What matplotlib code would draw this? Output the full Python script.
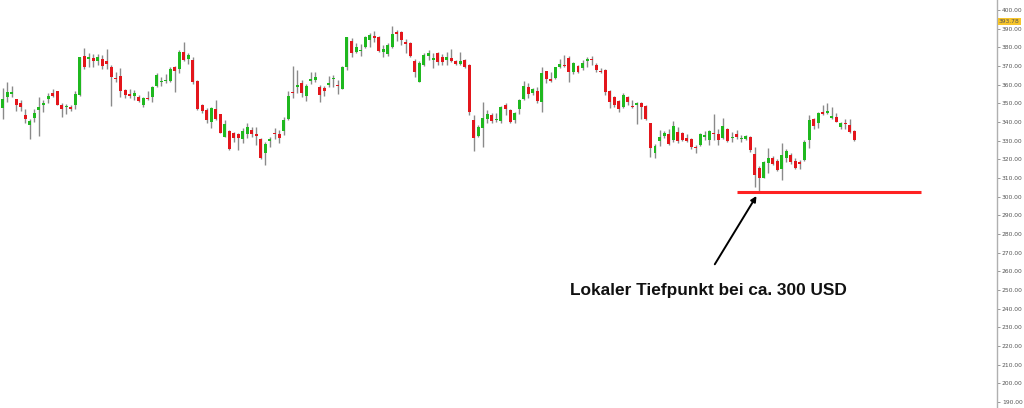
import matplotlib
matplotlib.use("Agg")
import matplotlib.pyplot as plt
import numpy as np

# OHLC values (one per candle, left to right)
opens = [347.7,353.4,355.3,352.1,350.2,343.9,338.2,342.1,346.4,349.3,352.1,355.4,356.4,348.9,347.9,347.9,348.9,354.5,375.4,373.9,
         374.3,372.9,373.7,372.5,369.3,363.6,364.6,357.1,355.0,353.7,353.6,349.3,353.0,353.4,359.5,361.4,361.8,362.1,369.3,368.6,
         377.5,373.9,373.4,362.1,349.1,346.6,340.2,347.1,344.1,332.1,335.2,333.9,333.4,331.1,333.4,335.7,333.4,330.7,323.2,330.0,
         334.3,333.7,335.4,341.4,356.2,358.9,361.1,353.9,361.9,362.5,358.9,358.4,359.8,362.9,360.0,357.9,369.6,383.6,377.7,378.2,
         380.4,383.9,386.1,385.7,377.3,376.4,380.4,388.4,388.0,383.0,382.5,372.9,361.6,370.5,375.5,373.4,376.8,374.8,373.4,374.5,
         372.5,371.2,373.2,370.5,341.1,332.5,336.6,341.6,343.7,340.9,340.7,348.9,346.2,341.1,346.8,352.3,358.9,355.7,356.6,350.9,
         367.1,363.2,363.6,369.3,370.7,374.1,367.0,370.0,368.7,372.9,373.9,370.5,367.5,367.9,356.6,353.2,351.2,348.2,353.2,348.6,
         349.1,350.4,348.7,339.3,323.6,330.0,332.7,333.4,330.4,334.5,333.9,331.4,330.9,326.8,327.7,332.1,330.4,333.9,333.6,331.6,
         336.1,331.4,333.6,330.9,331.1,332.1,322.9,315.5,310.2,318.2,320.9,319.1,314.6,320.5,322.3,319.1,318.4,319.7,330.4,341.6,
         339.3,345.2,344.7,342.3,342.9,337.5,339.7,338.6,335.4]
highs = [358.0,361.6,359.5,352.5,351.8,346.8,341.8,346.8,353.6,351.8,355.7,357.7,356.8,350.0,349.6,349.1,356.4,375.0,379.5,376.8,
         376.4,376.2,376.1,379.1,370.5,366.6,369.1,357.9,357.5,357.3,354.5,353.6,356.6,359.3,366.1,363.9,365.7,369.3,370.2,378.6,
         382.7,376.8,374.6,362.5,349.6,347.3,347.9,351.6,344.5,341.1,335.7,334.8,334.3,336.6,339.3,337.1,337.5,331.2,329.5,331.8,
         336.6,335.7,342.9,356.8,370.2,367.9,362.5,360.4,366.6,367.0,359.8,359.3,364.6,365.2,362.5,370.0,385.7,384.8,382.1,381.8,
         386.2,387.5,388.9,386.1,381.2,382.1,391.4,389.3,388.9,384.3,383.0,373.6,372.9,376.8,378.6,376.8,377.5,376.2,377.3,378.9,
         373.2,377.7,373.9,370.9,343.7,338.4,350.9,346.4,344.6,344.6,348.6,350.4,347.0,345.5,352.3,362.0,360.7,358.0,358.9,369.6,
         367.5,367.0,369.6,373.7,375.9,375.4,372.3,370.5,373.2,374.6,375.4,371.8,368.7,368.2,357.1,353.9,351.8,355.4,353.9,351.8,
         350.9,350.9,349.1,339.6,328.2,335.7,335.4,336.1,340.5,337.5,334.8,333.4,331.2,327.7,333.9,335.4,335.7,344.3,336.1,342.0,
         336.6,334.8,335.7,333.0,333.0,332.5,326.8,316.4,319.3,325.9,321.8,320.0,328.6,325.4,323.2,320.5,319.7,330.4,343.8,342.0,
         345.5,349.1,350.0,348.2,345.0,340.2,341.6,341.4,335.7]
lows = [341.4,350.9,353.2,346.1,346.1,339.6,330.9,340.2,332.5,345.5,350.3,353.2,348.9,342.8,344.1,346.1,347.1,353.9,368.2,369.3,
        369.6,370.7,368.2,368.6,348.7,361.4,353.6,352.7,352.7,351.8,350.9,347.9,351.8,350.9,358.9,359.5,360.7,361.6,356.2,366.1,
        372.7,370.9,360.2,346.4,344.6,339.6,336.6,341.1,333.9,331.8,325.0,329.5,325.0,328.6,331.2,332.1,327.7,320.0,317.0,326.4,
        331.1,328.9,333.0,341.1,353.0,355.4,353.6,351.4,360.4,361.2,350.9,353.9,358.9,358.9,355.0,357.5,367.9,375.0,376.8,375.4,
        379.5,380.4,383.0,377.7,374.6,375.4,379.5,383.6,381.2,377.1,374.6,363.9,361.4,370.0,373.2,368.7,370.5,370.5,370.5,372.3,
        370.5,370.5,369.1,343.7,324.6,331.8,326.4,339.3,339.3,339.8,339.3,343.7,339.6,339.6,344.1,351.8,352.7,354.5,350.0,345.5,
        360.7,361.2,363.2,368.9,369.3,361.6,365.7,366.4,367.9,369.6,370.5,367.0,366.1,354.5,347.3,348.2,345.5,347.3,349.1,347.3,
        338.9,341.4,341.1,321.4,320.5,327.1,331.2,327.7,329.5,328.9,329.8,329.1,325.4,323.2,327.1,330.4,327.7,330.4,327.7,330.7,
        329.5,329.5,331.1,329.5,330.4,324.1,305.4,302.7,309.8,312.5,317.0,313.8,308.9,318.8,317.5,314.6,314.8,319.3,325.9,336.2,
        336.6,343.8,344.3,341.6,339.8,336.1,336.1,333.9,330.0]
closes = [352.3,355.9,355.5,348.9,347.9,341.6,340.7,344.8,348.0,350.2,354.1,353.9,349.3,347.1,348.6,347.0,355.2,374.6,369.5,374.8,
          372.5,375.0,370.0,371.2,363.9,362.9,356.6,354.5,353.9,355.5,351.2,352.8,352.3,358.7,365.4,362.1,362.7,368.6,367.5,377.5,
          373.2,376.1,361.6,347.1,346.1,340.9,347.5,341.6,334.3,338.9,325.4,331.6,331.2,335.2,337.5,333.4,332.7,320.9,328.2,330.7,
          333.6,331.2,341.1,354.1,355.4,359.8,355.7,359.5,363.0,364.3,354.5,356.8,360.7,363.7,359.5,369.3,385.4,376.8,380.4,378.7,
          385.4,386.6,385.2,378.2,379.1,381.2,387.1,387.3,383.9,381.8,375.4,367.0,371.8,375.9,376.8,374.3,372.1,372.1,374.6,372.9,
          371.2,372.9,369.3,345.2,331.6,337.1,342.0,344.1,340.7,341.6,347.9,346.8,340.2,344.8,351.8,359.3,355.0,357.5,351.4,366.2,
          362.9,362.1,369.3,371.1,370.2,367.0,371.4,367.0,371.8,373.6,373.0,367.9,366.8,356.3,350.9,349.1,346.8,354.5,350.7,347.9,
          350.4,348.2,341.6,325.9,327.1,331.8,333.9,328.2,337.9,329.8,330.4,330.0,326.8,325.9,333.4,333.0,335.2,333.4,330.4,337.9,
          330.0,332.1,332.1,331.4,332.5,325.0,311.6,309.8,318.8,320.9,317.5,314.3,322.3,324.5,318.8,315.5,317.7,329.5,341.1,338.0,
          345.0,344.3,346.1,343.0,340.2,339.7,338.8,334.8,330.4]

y_ticks = list(range(190, 401, 10))
last_price = 393.78
support_level = 302.5
annotation_text = "Lokaler Tiefpunkt bei ca. 300 USD"

W, H = 1024, 408
fig = plt.figure(figsize=(W / 100, H / 100), dpi=100)
ax = fig.add_axes([0, 0, 997 / W, 1])

o = np.array(opens); h = np.array(highs); l = np.array(lows); c = np.array(closes)
x = np.arange(len(o))
up = c >= o
green = "#1fb81f"
red = "#e3161c"
cols = np.where(up, green, red)

ax.vlines(x, l, h, color="#8a8a8a", linewidth=1.0, zorder=1)
bottom = np.minimum(o, c)
height = np.maximum(np.abs(c - o), 0.6)
ax.bar(x, height, bottom=bottom, width=0.66, color=cols, edgecolor="none", zorder=2)

# support line
ax.plot([162.1, 202.7], [support_level, support_level], color="#ff2222", linewidth=2.2, zorder=3,
        solid_capstyle="butt")

# arrow + annotation
ax.annotate("", xy=(166.4, 300.4), xytext=(157.2, 263.8),
            arrowprops=dict(arrowstyle="-|>", color="black", lw=1.4, mutation_scale=8,
                            shrinkA=0, shrinkB=0), zorder=4)
ax.text(155.9, 250.0, annotation_text, ha="center", va="center", fontsize=12.4,
        fontweight="bold", family="Liberation Sans", color="#111111")

ax.set_xlim(-0.6, 219.5)
ax.set_ylim(186.8, 405.4)

for s in ["left", "top", "bottom"]:
    ax.spines[s].set_visible(False)
ax.spines["right"].set_color("#b0b0b0")
ax.spines["right"].set_linewidth(1.0)
ax.set_xticks([])
ax.yaxis.tick_right()
ax.set_yticks(y_ticks)
ax.set_yticklabels([f"{v:.2f}" for v in y_ticks])
ax.tick_params(axis="y", direction="out", length=2.5, width=0.7, color="#999999",
               labelsize=4.3, labelcolor="#555555", pad=1)

# last price tag
ax.text(1.0 + 2 / 997, last_price, f"{last_price:.2f}", transform=ax.get_yaxis_transform(),
        ha="left", va="center", fontsize=4.3, color="#555555", zorder=5,
        bbox=dict(boxstyle="square,pad=0.15", facecolor="#f7c52a", edgecolor="none"),
        clip_on=False)

fig.savefig("out.png", dpi=100)
